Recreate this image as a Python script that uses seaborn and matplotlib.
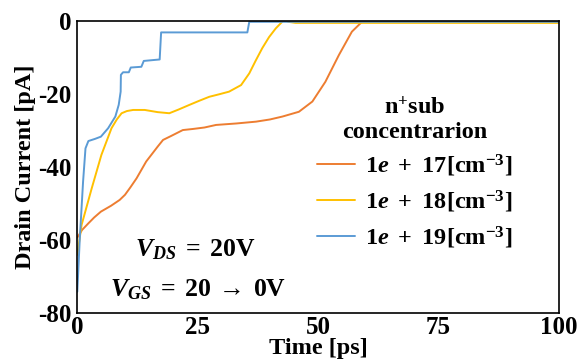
import pandas as pd
import matplotlib
matplotlib.use("Agg")
import matplotlib.pyplot as plt
import seaborn as sns

# Drain current traces (time [ps], current [pA])
t_17 = [0, 1.0, 2.3, 3.5, 4.9, 7.0, 8.8, 9.9, 11.0, 12.3, 14.3, 16.7, 17.8, 19.5, 21.9, 24.0, 26.4, 28.8, 33.0,
        37.1, 40.0, 42.6, 46.0, 48.8, 51.5, 54.3, 57.0, 59.1, 62, 70, 80, 90, 100]
i_17 = [-59.3, -57.2, -55.4, -53.8, -52.2, -50.6, -49.0, -47.6, -45.6, -43.1, -38.5, -34.4, -32.6, -31.5, -29.9,
        -29.6, -29.2, -28.5, -28.1, -27.6, -27.0, -26.2, -24.9, -22.1, -16.7, -9.4, -3.0, -0.3, -0.3, -0.3, -0.3,
        -0.3, -0.3]

t_18 = [0, 0.9, 3.0, 5.0, 7.1, 8.2, 9.2, 10.3, 11.6, 14.0, 16.7, 19.1, 21.0, 23.3, 25.3, 27.4, 29.5, 31.5, 34.0,
        35.7, 37.0, 38.4, 39.8, 41.2, 42.9, 43.8, 45.3, 50, 60, 70, 80, 90, 100]
i_18 = [-64.0, -55.8, -45.8, -36.7, -29.4, -27.0, -25.3, -24.7, -24.4, -24.4, -25.0, -25.3, -24.3, -23.0, -21.9,
        -20.8, -20.1, -19.4, -17.6, -14.4, -11.0, -7.5, -4.5, -2.1, 0.2, -0.3, -0.6, -0.6, -0.6, -0.6, -0.6,
        -0.6, -0.6]

t_19 = [0, 0.5, 1.2, 1.7, 2.3, 3.7, 4.9, 6.4, 7.9, 8.6, 9.0, 9.05, 9.5, 10.7, 11.1, 13.3, 13.8, 17.1, 17.4,
        35.3, 35.7, 50, 60, 70, 80, 90, 100]
i_19 = [-74.1, -60.0, -44.0, -34.9, -32.9, -32.3, -31.7, -29.4, -26.2, -23.0, -19.4, -14.8, -14.1, -14.1, -12.8,
        -12.6, -11.0, -10.6, -3.2, -3.2, -0.3, -0.3, -0.3, -0.3, -0.3, -0.3, -0.3]

series = ["1e17", "1e18", "1e19"]
legend_labels = [r"$1e\ +\ 17[\mathrm{cm}^{-3}]$",
                 r"$1e\ +\ 18[\mathrm{cm}^{-3}]$",
                 r"$1e\ +\ 19[\mathrm{cm}^{-3}]$"]
colors = ["#ED7D31", "#FFC000", "#5B9BD5"]

df = pd.concat([
    pd.DataFrame({"time": t_17, "current": i_17, "conc": "1e17"}),
    pd.DataFrame({"time": t_18, "current": i_18, "conc": "1e18"}),
    pd.DataFrame({"time": t_19, "current": i_19, "conc": "1e19"}),
])

sns.set_theme(style="white")
plt.rcParams["font.family"] = ["Liberation Serif", "DejaVu Serif"]
plt.rcParams["font.weight"] = "bold"
plt.rcParams["text.color"] = "black"
plt.rcParams["axes.labelcolor"] = "black"
plt.rcParams["xtick.color"] = "black"
plt.rcParams["ytick.color"] = "black"
plt.rcParams["axes.unicode_minus"] = False
plt.rcParams["mathtext.fontset"] = "custom"
plt.rcParams["mathtext.rm"] = "Liberation Serif:bold"
plt.rcParams["mathtext.bf"] = "Liberation Serif:bold"
plt.rcParams["mathtext.it"] = "Liberation Serif:bold:italic"

fig = plt.figure(figsize=(5.79, 3.6), dpi=100)
ax = fig.add_axes([0.1335, 0.1297, 0.832, 0.8128])

sns.lineplot(data=df, x="time", y="current", hue="conc", hue_order=series,
             palette=colors, estimator=None, sort=False, linewidth=1.4,
             ax=ax, legend=False)

ax.set_xlim(0, 100)
ax.set_ylim(-80, 0)
ax.set_xticks([0, 25, 50, 75, 100])
ax.set_yticks([-80, -60, -40, -20, 0])
ax.tick_params(axis="x", direction="in", length=3, width=1, pad=2, labelsize=18)
ax.tick_params(axis="y", direction="out", length=3, width=1, pad=1, labelsize=18)
for lab in ax.get_xticklabels() + ax.get_yticklabels():
    lab.set_fontweight("bold")
for sp in ax.spines.values():
    sp.set_color("black")
    sp.set_linewidth(1.2)

ax.set_xlabel("Time [ps]", fontsize=17.5, fontweight="bold", labelpad=-1)
ax.set_ylabel("Drain Current [pA]", fontsize=17.5, fontweight="bold", labelpad=2)

ax.text(24.6, -62.5, r"$V_{DS}\;=\;20\mathrm{V}$", fontsize=18.5, ha="center", va="center")
ax.text(25.1, -73.5, r"$V_{GS}\;=\;20\:\rightarrow\:0\mathrm{V}$", fontsize=18.5, ha="center", va="center")

handles = [plt.Line2D([], [], color=c, linewidth=1.4) for c in colors]
leg = ax.legend(handles, legend_labels, title="n$^{\\mathregular{+}}$sub\nconcentrarion",
                loc="upper center", bbox_to_anchor=(0.70, 0.80), frameon=False,
                fontsize=17.5, title_fontproperties={"size": 17.5, "weight": "bold"},
                handlelength=1.6, handletextpad=0.4, labelspacing=0.4, borderpad=0.2)
leg.get_title().set_multialignment("center")

fig.savefig("out.png", dpi=100)
